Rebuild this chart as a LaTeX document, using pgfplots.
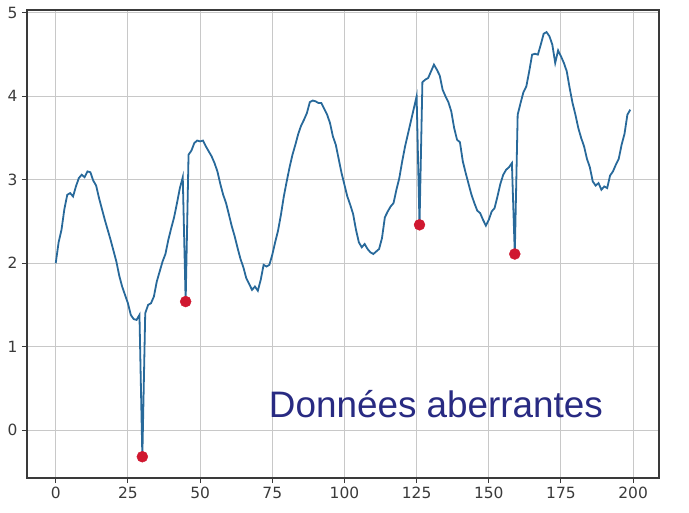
\documentclass[border=0pt]{standalone}
\usepackage{fontspec}
\setmainfont{DejaVu Sans}
\newfontfamily\arial{Liberation Sans}
\usepackage{pgfplots}
\pgfplotsset{compat=1.18}
\definecolor{mplblue}{HTML}{28699A}
\definecolor{mplred}{HTML}{D01830}
\definecolor{textblue}{RGB}{40,42,130}
\definecolor{gridgray}{HTML}{C8C8C8}
\definecolor{framegray}{HTML}{3A3A3A}
\begin{document}
\begin{tikzpicture}
\useasboundingbox (-27bp,-35bp) rectangle (662bp,478bp);
\begin{axis}[
  at={(0,0)}, anchor=south west,
  scale only axis, width=632bp, height=468bp,
  xmin=-9.95, xmax=208.95, ymin=-0.575, ymax=5.035,
  xtick={0,25,...,200}, ytick={0,1,2,3,4,5},
  grid=major,
  major grid style={gridgray, line width=1bp},
  axis line style={framegray, line width=1.3bp},
  tick style={framegray, line width=1bp},
  tick align=outside, major tick length=5bp,
  xtick pos=bottom, ytick pos=left,
  ticklabel style={font=\fontsize{15.5}{18}\selectfont, text=framegray},
  /pgf/number format/assume math mode=true,
  xticklabel style={yshift=-1bp},
  yticklabel style={xshift=-1bp},
  clip=false,
]
\addplot[mplblue, line width=1.8bp] coordinates {
(0,2.00)(1,2.25)(2,2.40)(3,2.65)(4,2.82)(5,2.84)(6,2.80)(7,2.92)(8,3.02)(9,3.06)
(10,3.03)(11,3.10)(12,3.09)(13,2.99)(14,2.93)(15,2.78)(16,2.65)(17,2.52)(18,2.40)(19,2.28)
(20,2.15)(21,2.02)(22,1.85)(23,1.72)(24,1.62)(25,1.52)(26,1.38)(27,1.33)(28,1.32)(29,1.38)
(30,-0.32)(31,1.40)(32,1.50)(33,1.52)(34,1.60)(35,1.78)(36,1.90)(37,2.02)(38,2.11)(39,2.28)
(40,2.42)(41,2.55)(42,2.72)(43,2.90)(44,3.03)(45,1.54)(46,3.30)(47,3.35)(48,3.44)(49,3.47)
(50,3.46)(51,3.47)(52,3.40)(53,3.34)(54,3.28)(55,3.20)(56,3.10)(57,2.95)(58,2.82)(59,2.72)
(60,2.58)(61,2.44)(62,2.32)(63,2.18)(64,2.05)(65,1.95)(66,1.82)(67,1.75)(68,1.68)(69,1.72)
(70,1.67)(71,1.80)(72,1.98)(73,1.96)(74,1.98)(75,2.10)(76,2.25)(77,2.39)(78,2.58)(79,2.80)
(80,2.98)(81,3.15)(82,3.30)(83,3.42)(84,3.55)(85,3.65)(86,3.72)(87,3.80)(88,3.93)(89,3.95)
(90,3.94)(91,3.92)(92,3.92)(93,3.85)(94,3.78)(95,3.68)(96,3.52)(97,3.42)(98,3.25)(99,3.08)
(100,2.94)(101,2.80)(102,2.70)(103,2.59)(104,2.40)(105,2.25)(106,2.19)(107,2.23)(108,2.17)(109,2.13)
(110,2.11)(111,2.14)(112,2.17)(113,2.30)(114,2.55)(115,2.62)(116,2.68)(117,2.72)(118,2.88)(119,3.02)
(120,3.22)(121,3.40)(122,3.55)(123,3.70)(124,3.85)(125,4.00)(126,2.46)(127,4.17)(128,4.20)(129,4.22)
(130,4.30)(131,4.38)(132,4.32)(133,4.25)(134,4.08)(135,4.00)(136,3.93)(137,3.82)(138,3.62)(139,3.48)
(140,3.45)(141,3.22)(142,3.08)(143,2.95)(144,2.82)(145,2.72)(146,2.63)(147,2.60)(148,2.52)(149,2.45)
(150,2.52)(151,2.62)(152,2.66)(153,2.80)(154,2.95)(155,3.06)(156,3.12)(157,3.15)(158,3.20)(159,2.11)
(160,3.78)(161,3.92)(162,4.05)(163,4.12)(164,4.30)(165,4.50)(166,4.51)(167,4.50)(168,4.62)(169,4.75)
(170,4.77)(171,4.72)(172,4.62)(173,4.40)(174,4.55)(175,4.48)(176,4.40)(177,4.30)(178,4.10)(179,3.92)
(180,3.78)(181,3.62)(182,3.50)(183,3.40)(184,3.25)(185,3.15)(186,2.98)(187,2.93)(188,2.96)(189,2.88)
(190,2.92)(191,2.90)(192,3.05)(193,3.10)(194,3.18)(195,3.25)(196,3.42)(197,3.55)(198,3.78)(199,3.84)
};
\addplot[only marks, mark=*, mark size=5.5bp, mark options={draw=mplred, fill=mplred}] coordinates {
(30,-0.32)(45,1.54)(126,2.46)(159,2.11)
};
\node[anchor=base, text=textblue, font=\arial\fontsize{37}{40}\selectfont, inner sep=0pt]
  at (axis cs:131.7,0.15) {Données aberrantes};
\end{axis}
\end{tikzpicture}
\end{document}
